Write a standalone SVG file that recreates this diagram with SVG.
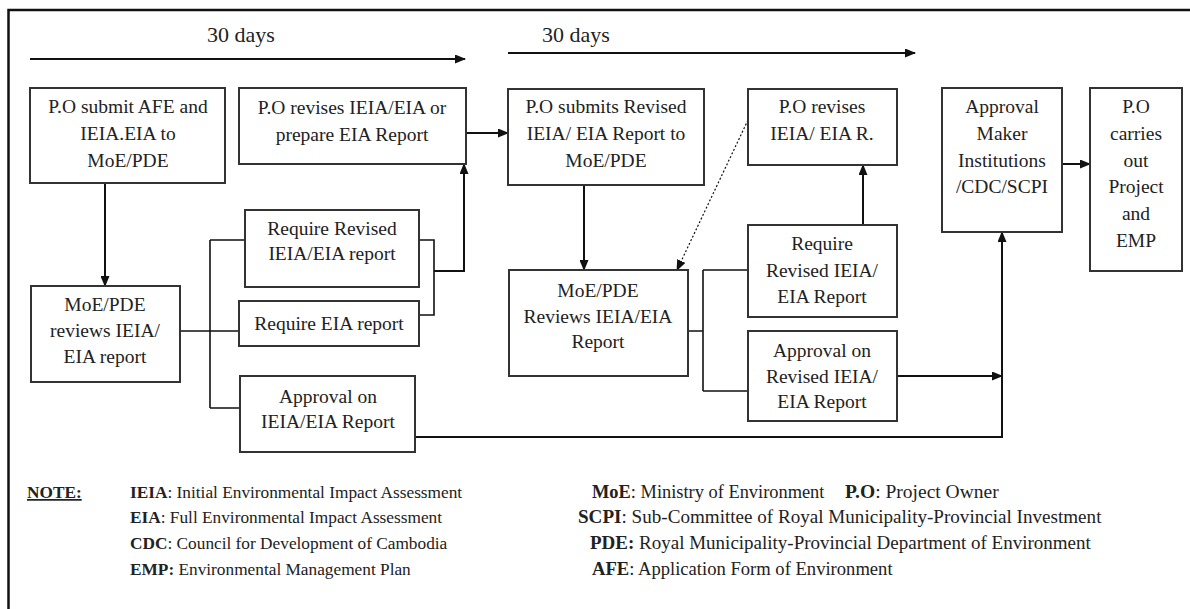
<svg xmlns="http://www.w3.org/2000/svg" width="1190" height="609" viewBox="0 0 1190 609">
<style>
.box{fill:#fff;stroke:#333;stroke-width:2}
.t{font-family:"Liberation Serif","Times New Roman",serif;font-size:19.5px;fill:#222;text-anchor:middle}
.c{fill:none;stroke:#111;stroke-width:2}
.n{font-family:"Liberation Serif","Times New Roman",serif;font-size:17.3px;fill:#222}
.n2{font-family:"Liberation Serif","Times New Roman",serif;font-size:19px;fill:#222}
.b{font-weight:bold}
</style>
<defs>
<marker id="ah" markerUnits="userSpaceOnUse" markerWidth="11" markerHeight="9" refX="10" refY="4.5" orient="auto">
<path d="M0,0 L11,4.5 L0,9 z" fill="#111"/>
</marker>
<marker id="ahs" markerUnits="userSpaceOnUse" markerWidth="8" markerHeight="7" refX="8" refY="3.5" orient="auto">
<path d="M0,0 L8,3.5 L0,7 z" fill="#555"/>
</marker>
</defs>
<rect x="0" y="0" width="1190" height="609" fill="#fff"/>
<rect x="8.5" y="10" width="1200" height="640" fill="none" stroke="#111" stroke-width="2.5"/>

<text class="t" x="241" y="42" style="font-size:22px">30 days</text>
<text class="t" x="576" y="42" style="font-size:22px">30 days</text>

<g id="connectors">
<path class="c" d="M30 59 H465" marker-end="url(#ah)"/>
<path class="c" d="M508 53 H915" marker-end="url(#ah)"/>
<path class="c" d="M105 183 V286" marker-end="url(#ah)"/>
<path class="c" d="M180 331 H239 M210 240 V408 M210 240 H245 M210 408 H240" style="stroke-width:1.6"/>
<path class="c" d="M419 240 H434 V315 H419" style="stroke-width:1.6"/>
<path class="c" d="M434 271 H464 V164" marker-end="url(#ah)"/>
<path class="c" d="M466 133 H508" marker-end="url(#ah)"/>
<path class="c" d="M584 185 V270" marker-end="url(#ah)"/>
<path class="c" d="M748 120 L677 270" style="stroke-width:1.2;stroke-dasharray:2 2" marker-end="url(#ah)"/>
<path class="c" d="M688 331 H703 M703 270 V391 M703 270 H748 M703 391 H748" style="stroke-width:1.6"/>
<path class="c" d="M863 225 V165" marker-end="url(#ah)"/>
<path class="c" d="M897 376 H1002" marker-end="url(#ah)"/>
<path class="c" d="M415 437 H1002 V232" marker-end="url(#ah)"/>
<path class="c" d="M1062 164 H1090" marker-end="url(#ah)"/>
<path d="M800 158 H846" fill="none" stroke="#999" stroke-width="1" stroke-dasharray="3 3" marker-end="url(#ahs)"/>
</g>

<g id="n1"><rect class="box" x="30" y="88" width="195" height="95"/>
<text class="t" x="128" y="113">P.O submit AFE and</text>
<text class="t" x="128" y="140">IEIA.EIA to</text>
<text class="t" x="128" y="167">MoE/PDE</text></g>

<g id="n2"><rect class="box" x="239" y="88" width="227" height="76"/>
<text class="t" x="352" y="114">P.O revises IEIA/EIA or</text>
<text class="t" x="352" y="141">prepare EIA Report</text></g>

<g id="n3"><rect class="box" x="508" y="89" width="196" height="96"/>
<text class="t" x="606" y="113">P.O submits Revised</text>
<text class="t" x="606" y="140">IEIA/ EIA Report to</text>
<text class="t" x="606" y="167">MoE/PDE</text></g>

<g id="n4"><rect class="box" x="748" y="89" width="149" height="76"/>
<text class="t" x="822" y="113">P.O revises</text>
<text class="t" x="822" y="140">IEIA/ EIA R.</text></g>

<g id="n5"><rect class="box" x="942" y="88" width="120" height="144"/>
<text class="t" x="1002" y="113">Approval</text>
<text class="t" x="1002" y="140">Maker</text>
<text class="t" x="1002" y="167">Institutions</text>
<text class="t" x="1002" y="193">/CDC/SCPI</text></g>

<g id="n6"><rect class="box" x="1090" y="88" width="92" height="183"/>
<text class="t" x="1136" y="113">P.O</text>
<text class="t" x="1136" y="140">carries</text>
<text class="t" x="1136" y="167">out</text>
<text class="t" x="1136" y="193">Project</text>
<text class="t" x="1136" y="220">and</text>
<text class="t" x="1136" y="247">EMP</text></g>

<g id="n7"><rect class="box" x="31" y="286" width="149" height="96"/>
<text class="t" x="105" y="311">MoE/PDE</text>
<text class="t" x="105" y="337">reviews IEIA/</text>
<text class="t" x="105" y="363">EIA report</text></g>

<g id="n8"><rect class="box" x="245" y="210" width="174" height="77"/>
<text class="t" x="332" y="235">Require Revised</text>
<text class="t" x="332" y="260">IEIA/EIA report</text></g>

<g id="n9"><rect class="box" x="239" y="301" width="180" height="45"/>
<text class="t" x="329" y="330">Require EIA report</text></g>

<g id="n10"><rect class="box" x="240" y="376" width="175" height="76"/>
<text class="t" x="328" y="403">Approval on</text>
<text class="t" x="328" y="428">IEIA/EIA Report</text></g>

<g id="n11"><rect class="box" x="509" y="270" width="179" height="106"/>
<text class="t" x="598" y="297">MoE/PDE</text>
<text class="t" x="598" y="323">Reviews IEIA/EIA</text>
<text class="t" x="598" y="348">Report</text></g>

<g id="n12"><rect class="box" x="748" y="225" width="149" height="92"/>
<text class="t" x="822" y="250">Require</text>
<text class="t" x="822" y="277">Revised IEIA/</text>
<text class="t" x="822" y="303">EIA Report</text></g>

<g id="n13"><rect class="box" x="748" y="331" width="149" height="90"/>
<text class="t" x="822" y="357">Approval on</text>
<text class="t" x="822" y="383">Revised IEIA/</text>
<text class="t" x="822" y="408">EIA Report</text></g>

<g id="notes">
<text class="n b" x="27" y="498" text-decoration="underline">NOTE:</text>
<text class="n" x="130" y="498"><tspan class="b">IEIA</tspan>: Initial Environmental Impact Assessment</text>
<text class="n" x="130" y="523"><tspan class="b">EIA</tspan>: Full Environmental Impact Assessment</text>
<text class="n" x="130" y="549"><tspan class="b">CDC</tspan>: Council for Development of Cambodia</text>
<text class="n" x="130" y="575"><tspan class="b">EMP:</tspan> Environmental Management Plan</text>
<text class="n2" x="592" y="498" style="font-size:18.4px"><tspan class="b">MoE</tspan>: Ministry of Environment</text>
<text class="n2" x="845" y="498" style="font-size:19.5px"><tspan class="b">P.O</tspan>: Project Owner</text>
<text class="n2" x="578" y="523" style="font-size:19.1px"><tspan class="b">SCPI</tspan>: Sub-Committee of Royal Municipality-Provincial Investment</text>
<text class="n2" x="590" y="549"><tspan class="b">PDE:</tspan> Royal Municipality-Provincial Department of Environment</text>
<text class="n2" x="592" y="575" style="font-size:18.6px"><tspan class="b">AFE</tspan>: Application Form of Environment</text>
</g>
</svg>
